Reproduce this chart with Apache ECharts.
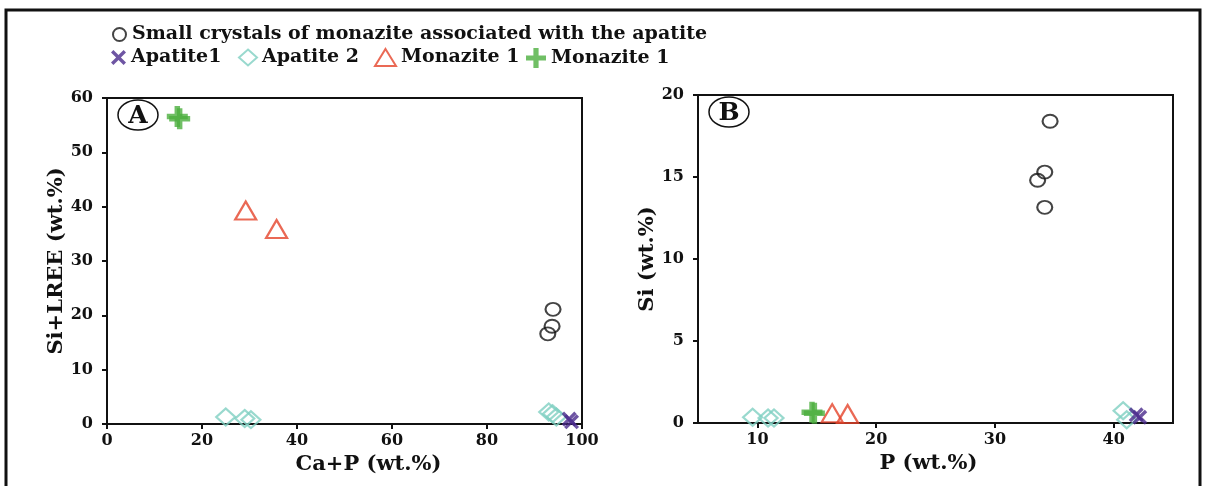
<!DOCTYPE html>
<html>
<head>
<meta charset="utf-8">
<script src="https://cdn.jsdelivr.net/npm/echarts@6/dist/echarts.min.js"></script>
<style>
  html, body { margin: 0; padding: 0; background: #fff; }
  #chart { width: 1206px; height: 486px; }
</style>
</head>
<body>
<div id="chart"></div>
<script>
// Panel A: Ca+P (wt.%) vs Si+LREE (wt.%)
const smallMonaziteA = [[93.9, 21.1], [93.7, 18.0], [92.8, 16.6]];
const apatite1A = [[97.3, 0.9], [97.8, 0.4]];
const apatite2A = [[25.0, 1.3], [29.0, 1.0], [30.3, 0.8], [93.0, 2.2], [93.8, 1.9], [94.6, 1.3]];
const monazite1TriA = [[29.2, 39.3], [35.7, 35.9]];
const monazite1PlusA = [[14.8, 56.6], [15.3, 56.2]];

// Panel B: P (wt.%) vs Si (wt.%)
const smallMonaziteB = [[34.65, 18.4], [34.2, 15.3], [33.6, 14.8], [34.2, 13.15]];
const apatite1B = [[41.9, 0.5], [42.2, 0.35]];
const apatite2B = [[9.6, 0.35], [10.9, 0.3], [11.4, 0.3], [40.8, 0.75], [41.1, 0.2]];
const monazite1TriB = [[16.3, 0.6], [17.6, 0.55]];
const monazite1PlusB = [[14.6, 0.65], [14.8, 0.6]];

// Axis ticks
const ticksAX = [0, 20, 40, 60, 80, 100];
const ticksAY = [0, 10, 20, 30, 40, 50, 60];
const ticksBX = [10, 20, 30, 40];
const ticksBY = [0, 5, 10, 15, 20];

const NAMES = {
  small: 'Small crystals of monazite associated with the apatite',
  ap1: 'Apatite1',
  ap2: 'Apatite 2',
  monTri: 'Monazite 1',
  monPlus: 'Monazite 1 '
};

const COLORS = {
  small: '#151515',
  ap1: '#4a2a8c',
  ap2: '#7fcfc2',
  monTri: '#e5432b',
  monPlus: '#4caf3e'
};

const SERIF = '"DejaVu Serif", "Liberation Serif", serif';

const crossPath = 'path://M0,1.6 L1.6,0 L5,3.4 L8.4,0 L10,1.6 L6.6,5 L10,8.4 L8.4,10 L5,6.6 L1.6,10 L0,8.4 L3.4,5 Z';
const plusPath = 'path://M3.7,0 H6.3 V3.7 H10 V6.3 H6.3 V10 H3.7 V6.3 H0 V3.7 H3.7 Z';

const styles = {
  small: { symbol: 'circle', symbolSize: [15, 13], itemStyle: { color: 'rgba(255,255,255,0)', borderColor: COLORS.small, borderWidth: 2 } },
  ap1: { symbol: crossPath, symbolSize: [15, 15], itemStyle: { color: COLORS.ap1, borderWidth: 0 } },
  ap2: { symbol: 'diamond', symbolSize: [19, 17], itemStyle: { color: 'rgba(255,255,255,0)', borderColor: COLORS.ap2, borderWidth: 2.2 } },
  monTri: { symbol: 'triangle', symbolSize: [21, 18], itemStyle: { color: 'rgba(255,255,255,0)', borderColor: COLORS.monTri, borderWidth: 2.2 } },
  monPlus: { symbol: plusPath, symbolSize: [21, 21], itemStyle: { color: COLORS.monPlus, borderWidth: 0 } }
};

function scatter(key, data, idx) {
  return {
    type: 'scatter',
    name: NAMES[key],
    xAxisIndex: idx,
    yAxisIndex: idx,
    data: data,
    z: 3,
    emphasis: { disabled: true },
    symbol: styles[key].symbol,
    symbolSize: styles[key].symbolSize,
    itemStyle: Object.assign({}, styles[key].itemStyle)
  };
}

const axisLine = { show: true, onZero: false, lineStyle: { color: '#111', width: 2 } };
const axisTick = { show: true, inside: false, length: 5, lineStyle: { color: '#111', width: 2 } };
const labelStyle = { color: '#111', fontFamily: SERIF, fontWeight: 'bold', fontSize: 16 };
const nameStyle = { color: '#111', fontFamily: SERIF, fontWeight: 'bold', fontSize: 21 };

function valueAxis(opts, ticks, margin) {
  return Object.assign({
    type: 'value',
    nameLocation: 'middle',
    nameTextStyle: nameStyle,
    axisLine: axisLine,
    axisTick: Object.assign({}, axisTick, { customValues: ticks }),
    axisLabel: Object.assign({}, labelStyle, { customValues: ticks, margin: margin }),
    splitLine: { show: false }
  }, opts);
}

const legendText = { color: '#111', fontFamily: SERIF, fontWeight: 'bold', fontSize: 19 };

// one legend per entry so each can sit at its own spot along the row
function legendItem(key, left, top, w, h) {
  return {
    data: [NAMES[key]],
    left: left, top: top,
    itemWidth: w, itemHeight: h,
    textStyle: legendText,
    formatter: n => n.trim(),
    selectedMode: false
  };
}

const option = {
  backgroundColor: '#fff',
  animation: false,
  legend: [
    legendItem('small', 107, 20, 15, 13),
    legendItem('ap1', 106, 43, 15, 15),
    legendItem('ap2', 233, 43, 18, 16),
    legendItem('monTri', 369, 43, 21, 17),
    legendItem('monPlus', 521, 43, 20, 20)
  ],
  grid: [
    { left: 107, top: 98, width: 475, height: 326, show: true, borderColor: '#111', borderWidth: 2, backgroundColor: 'transparent' },
    { left: 698, top: 95, width: 475, height: 328, show: true, borderColor: '#111', borderWidth: 2, backgroundColor: 'transparent' }
  ],
  xAxis: [
    valueAxis({ gridIndex: 0, min: 0, max: 100, name: 'Ca+P (wt.%)', nameGap: 29,
      nameTextStyle: Object.assign({}, nameStyle, { padding: [0, 0, 0, 48] }) }, ticksAX, 9),
    valueAxis({ gridIndex: 1, min: 5, max: 45, name: 'P (wt.%)', nameGap: 29,
      nameTextStyle: Object.assign({}, nameStyle, { padding: [0, 14, 0, 0] }) }, ticksBX, 9)
  ],
  yAxis: [
    valueAxis({ gridIndex: 0, min: 0, max: 60, name: 'Si+LREE (wt.%)', nameGap: 40 }, ticksAY, 14),
    valueAxis({ gridIndex: 1, min: 0, max: 20, name: 'Si (wt.%)', nameGap: 40 }, ticksBY, 14)
  ],
  series: [
    scatter('small', smallMonaziteA, 0),
    scatter('ap2', apatite2A, 0),
    scatter('ap1', apatite1A, 0),
    scatter('monTri', monazite1TriA, 0),
    scatter('monPlus', monazite1PlusA, 0),
    scatter('small', smallMonaziteB, 1),
    scatter('ap2', apatite2B, 1),
    scatter('ap1', apatite1B, 1),
    scatter('monTri', monazite1TriB, 1),
    scatter('monPlus', monazite1PlusB, 1)
  ],
  graphic: [
    // outer figure frame
    { type: 'rect', shape: { x: 6, y: 10, width: 1194, height: 490 }, style: { fill: 'none', stroke: '#111', lineWidth: 3 }, silent: true },
    // panel badges
    { type: 'ellipse', shape: { cx: 138, cy: 115, rx: 20, ry: 15 }, style: { fill: '#fff', stroke: '#111', lineWidth: 1.5 }, z: 10 },
    { type: 'text', x: 138, y: 116, style: { text: 'A', fill: '#111', font: 'bold 25px ' + SERIF, align: 'center', verticalAlign: 'middle' }, z: 11 },
    { type: 'ellipse', shape: { cx: 729, cy: 112, rx: 20, ry: 15 }, style: { fill: '#fff', stroke: '#111', lineWidth: 1.5 }, z: 10 },
    { type: 'text', x: 729, y: 113, style: { text: 'B', fill: '#111', font: 'bold 25px ' + SERIF, align: 'center', verticalAlign: 'middle' }, z: 11 }
  ]
};

const chart = echarts.init(document.getElementById('chart'), null, { renderer: 'canvas' });
chart.setOption(option);
</script>
</body>
</html>
